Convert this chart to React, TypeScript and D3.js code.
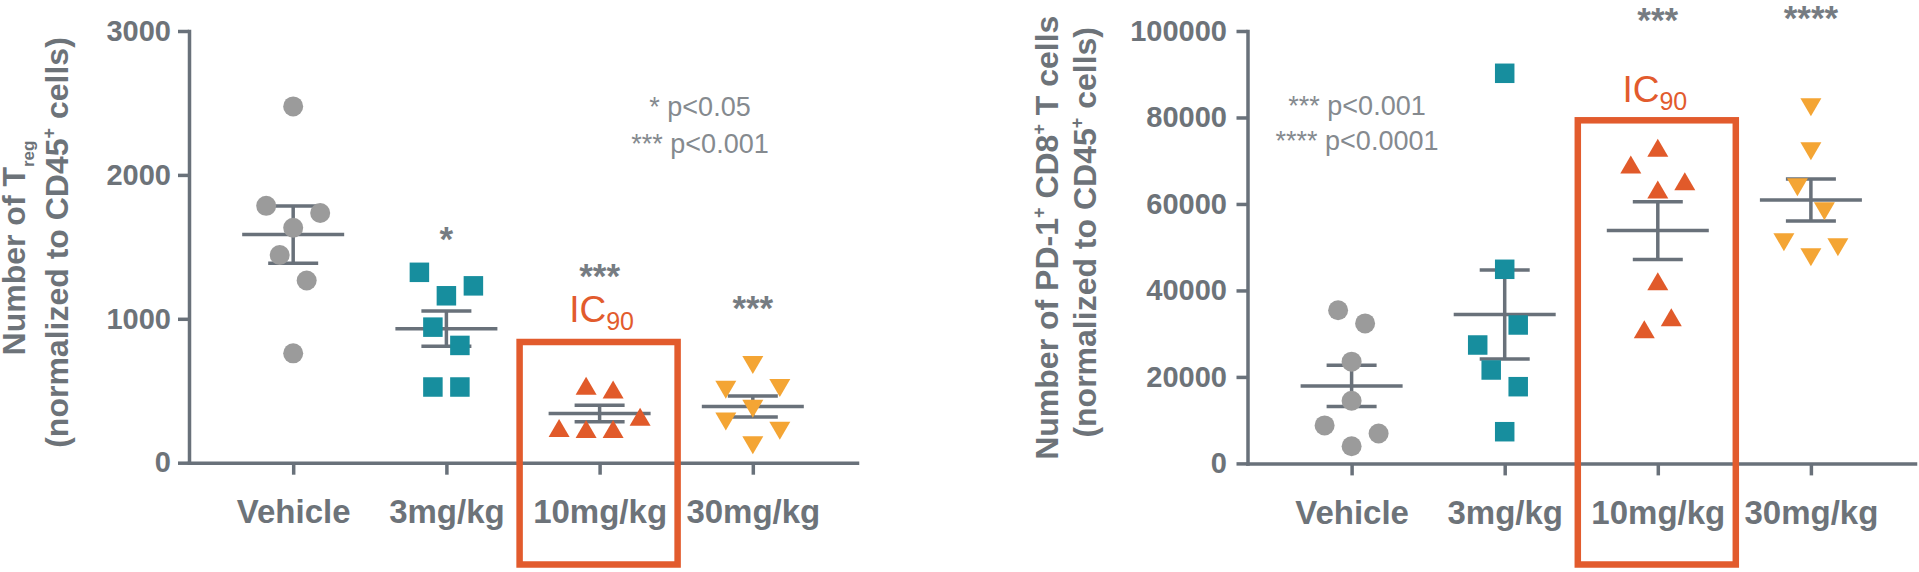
import React, { useEffect, useRef } from 'react';
import * as d3 from 'd3';

// ---------- data ----------
const categories = ['Vehicle', '3mg/kg', '10mg/kg', '30mg/kg'];

// Panel A: number of Treg (normalized to CD45+ cells)
const tregVehicle = [2476, 1785, 1735, 1633, 1443, 1266, 760];
const treg3 = [1323, 1229, 1160, 942, 815, 526, 526];
const treg10 = [531, 505, 315, 238, 231, 231];
const treg30 = [683, 510, 523, 378, 289, 226, 124];
const tregTicks = [0, 1000, 2000, 3000];
const tregSig = ['', '*', '***', '***'];
const tregLegend = ['* p<0.05', '*** p<0.001'];

// Panel B: number of PD-1+ CD8+ T cells (normalized to CD45+ cells)
const pd1Vehicle = [35420, 32380, 23530, 14500, 8780, 6910, 3970];
const pd1Dose3 = [90220, 44890, 32010, 27380, 21600, 17740, 7330];
const pd1Dose10 = [72870, 69010, 65150, 63230, 42020, 33700, 30920];
const pd1Dose30 = [82490, 72320, 63990, 58440, 51270, 50120, 47810];
const pd1Ticks = [0, 20000, 40000, 60000, 80000, 100000];
const pd1Sig = ['', '', '***', '****'];
const pd1Legend = ['*** p<0.001', '**** p<0.0001'];

// horizontal scatter lanes of each point (Prism-style spreading)
const tregLanes = [
  [0, -2, 2, 0, -1, 1, 0],
  [-2, 2, 0, -1, 1, -1, 1],
  [-1, 1, 3, -3, -1, 1],
  [0, -2, 2, 0, -2, 2, 0],
];
const pd1Lanes = [
  [-1, 1, 0, 0, -2, 2, 0],
  [0, 0, 1, -2, -1, 1, 0],
  [0, -2, 2, 0, 0, 1, -1],
  [0, 0, -1, 1, -2, 2, 0],
];

// ---------- style ----------
const FONT = '"Liberation Sans", Arial, Helvetica, sans-serif';
const TEXT = '#6d7379';
const LINE = '#69717a';
const LEGEND = '#858a8f';
const RED = '#e25b2d';
const colors = ['#9b9b9b', '#178e9e', '#e15a2a', '#f4a534'];
const shapes = ['circle', 'square', 'up', 'down'];
const LANE = 13.5;

function Symbol({ shape, color, cx, cy }: any) {
  if (shape === 'circle') return <circle cx={cx} cy={cy} r={10} fill={color} />;
  if (shape === 'square')
    return <rect x={cx - 9.75} y={cy - 9.75} width={19.5} height={19.5} fill={color} />;
  if (shape === 'up')
    return <path d={`M${cx},${cy - 9.5}L${cx + 10.5},${cy + 8.5}L${cx - 10.5},${cy + 8.5}Z`} fill={color} />;
  return <path d={`M${cx - 10.5},${cy - 8.5}L${cx + 10.5},${cy - 8.5}L${cx},${cy + 9.5}Z`} fill={color} />;
}

function Axes({ x, y, ticks, tickPad }: any) {
  const yRef = useRef<SVGGElement>(null);
  const xRef = useRef<SVGGElement>(null);
  useEffect(() => {
    const style = (g: any, fs: number) => {
      g.attr('font-family', FONT).attr('font-size', fs).attr('font-weight', 'bold');
      g.select('.domain').attr('stroke', LINE).attr('stroke-width', 3.5).attr('stroke-linecap', 'square');
      g.selectAll('.tick line').attr('stroke', LINE).attr('stroke-width', 3.5);
      g.selectAll('.tick text').attr('fill', TEXT);
    };
    const ya = d3
      .axisLeft(y)
      .tickValues(ticks)
      .tickFormat(d3.format('d'))
      .tickSize(11)
      .tickSizeOuter(0)
      .tickPadding(tickPad);
    style(d3.select(yRef.current).call(ya as any), 29);
    const xa = d3.axisBottom(x).tickSize(12).tickSizeOuter(0).tickPadding(25);
    style(d3.select(xRef.current).call(xa as any), 33);
  }, []);
  return (
    <>
      <g ref={xRef} transform={`translate(0,${y(0)})`} />
      <g ref={yRef} transform={`translate(${x.range()[0]},0)`} />
    </>
  );
}

function Panel({ cfg }: any) {
  const x = d3.scalePoint<string>().domain(categories).range(cfg.xRange).padding(0.68);
  const y = d3.scaleLinear().domain(cfg.yDomain).range(cfg.yRange);
  const cx10 = x('10mg/kg') as number;
  return (
    <g>
      <Axes x={x} y={y} ticks={cfg.ticks} tickPad={cfg.tickPad} />
      {/* y label */}
      <g fontFamily={FONT} fontWeight="bold" fill={TEXT} fontSize={32}>
        <text transform={`translate(${cfg.lab1[0]},${cfg.lab1[1]}) rotate(-90)`} textAnchor="middle">
          {cfg.line1}
        </text>
        <text transform={`translate(${cfg.lab2[0]},${cfg.lab2[1]}) rotate(-90)`} textAnchor="middle">
          (normalized to CD45
          <tspan fontSize={18} dy={-13}>+</tspan>
          <tspan dy={13}> cells)</tspan>
        </text>
      </g>
      {/* error bars */}
      {cfg.series.map((vals: number[], i: number) => {
        const cx = x(categories[i]) as number;
        const m = d3.mean(vals) as number;
        const sem = (d3.deviation(vals) as number) / Math.sqrt(vals.length);
        return (
          <g key={'e' + i} stroke={LINE} strokeWidth={3.5}>
            <line x1={cx - 51} x2={cx + 51} y1={y(m)} y2={y(m)} />
            <line x1={cx} x2={cx} y1={y(m - sem)} y2={y(m + sem)} />
            <line x1={cx - 25} x2={cx + 25} y1={y(m + sem)} y2={y(m + sem)} />
            <line x1={cx - 25} x2={cx + 25} y1={y(m - sem)} y2={y(m - sem)} />
          </g>
        );
      })}
      {/* points */}
      {cfg.series.map((vals: number[], i: number) => {
        const cx = x(categories[i]) as number;
        return vals.map((v, j) => (
          <Symbol key={i + '-' + j} shape={shapes[i]} color={colors[i]} cx={cx + cfg.lanes[i][j] * LANE} cy={y(v)} />
        ));
      })}
      {/* significance stars */}
      {cfg.sig.map((s: string, i: number) =>
        s ? (
          <text
            key={'s' + i}
            x={x(categories[i])}
            y={cfg.sigY[i] + 20}
            textAnchor="middle"
            fontFamily={FONT}
            fontWeight="bold"
            fontSize={35}
            fill="#767c82"
          >
            {s}
          </text>
        ) : null
      )}
      {/* legend */}
      {cfg.legend.map((s: string, i: number) => (
        <text
          key={'l' + i}
          x={cfg.legendX}
          y={cfg.legendY[i]}
          textAnchor="middle"
          fontFamily={FONT}
          fontSize={27}
          fill={LEGEND}
        >
          {s}
        </text>
      ))}
      {/* IC90 */}
      <text x={cx10 + cfg.icDx} y={cfg.icY} textAnchor="middle" fontFamily={FONT} fontSize={37} fill={RED}>
        IC<tspan fontSize={25} dy={8.3}>90</tspan>
      </text>
      <rect
        x={cx10 - 80}
        y={cfg.boxTop}
        width={158}
        height={cfg.boxBottom - cfg.boxTop}
        fill="none"
        stroke={RED}
        strokeWidth={6.5}
      />
    </g>
  );
}

const panelA = {
  series: [tregVehicle, treg3, treg10, treg30],
  lanes: tregLanes,
  ticks: tregTicks,
  sig: tregSig,
  legend: tregLegend,
  xRange: [189, 857],
  yRange: [462.7, 31],
  yDomain: [0, 3000],
  tickPad: 7,
  line1: (
    <>
      Number of T<tspan fontSize={17} dy={9}>reg</tspan>
    </>
  ),
  lab1: [25, 248],
  lab2: [68, 242.5],
  sigY: [0, 231, 268, 299.5],
  legendX: 700,
  legendY: [116, 153],
  icDx: 2,
  icY: 321.7,
  boxTop: 342,
  boxBottom: 564.5,
};

const panelB = {
  series: [pd1Vehicle, pd1Dose3, pd1Dose10, pd1Dose30],
  lanes: pd1Lanes,
  ticks: pd1Ticks,
  sig: pd1Sig,
  legend: pd1Legend,
  xRange: [1247.5, 1915],
  yRange: [463.4, 31],
  yDomain: [0, 100000],
  tickPad: 9.5,
  line1: (
    <>
      Number of PD-1<tspan fontSize={18} dy={-13}>+</tspan>
      <tspan dy={13}> CD8</tspan>
      <tspan fontSize={18} dy={-13}>+</tspan>
      <tspan dy={13}> T cells</tspan>
    </>
  ),
  lab1: [1058, 237.7],
  lab2: [1096, 232.3],
  sigY: [0, 0, 11.7, 10.2],
  legendX: 1357,
  legendY: [115, 149.5],
  icDx: -3,
  icY: 101.7,
  boxTop: 120.3,
  boxBottom: 564.5,
};

export default function App() {
  return (
    <svg
      width={1919}
      height={572}
      style={{ position: 'absolute', left: 0, top: 0, background: '#ffffff' }}
    >
      <Panel cfg={panelA} />
      <Panel cfg={panelB} />
    </svg>
  );
}
